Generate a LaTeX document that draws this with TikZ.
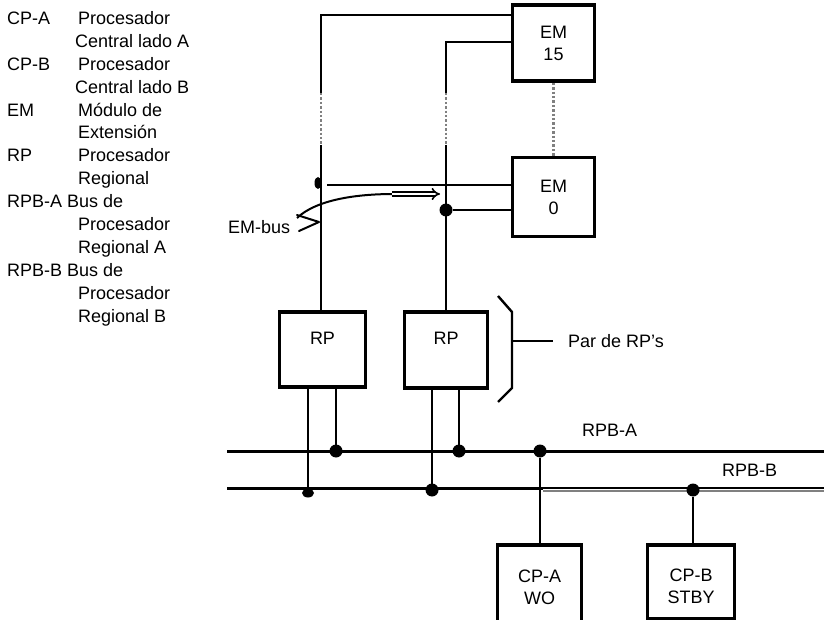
\documentclass[tikz,border=0pt]{standalone}
\usepackage{fontspec}
\setmainfont{Liberation Sans}
\usetikzlibrary{arrows.meta,shapes.geometric}
\begin{document}
\begin{tikzpicture}[x=1pt,y=-1pt,
  txt/.style={font=\fontsize{18}{22}\selectfont, inner sep=0pt},
  lg/.style={txt, anchor=base west},
  ln/.style={line width=2.4pt},
  bus/.style={line width=3pt},
  dotl/.style={line width=2.4pt, dotted, gray},
  box/.style={draw, line width=3.6pt, fill=white, inner sep=0pt, align=center, font=\fontsize{18}{22}\selectfont},
  dotn/.style={circle, fill, inner sep=0pt, minimum size=13pt}
]
\clip (0,0) rectangle (824,620);
\fill[white] (0,0) rectangle (824,620);

% legend
\node[lg] (l0a) at (7,24.5) {CP-A};
\node[lg] (l0b) at (78,24.5) {Procesador};
\node[lg] (l1)  at (75,47.4) {Central lado A};
\node[lg] (l2a) at (7,70.3) {CP-B};
\node[lg] (l2b) at (78,70.3) {Procesador};
\node[lg] (l3)  at (75,93.2) {Central lado B};
\node[lg] (l4a) at (7,116.1) {EM};
\node[lg] (l4b) at (78,116.1) {Módulo de};
\node[lg] (l5)  at (78,139) {Extensión};
\node[lg] (l6a) at (7,161.9) {RP};
\node[lg] (l6b) at (78,161.9) {Procesador};
\node[lg] (l7)  at (78,184.8) {Regional};
\node[lg] (l8)  at (7,207.7) {RPB-A Bus de};
\node[lg] (l9)  at (78,230.6) {Procesador};
\node[lg] (l10) at (78,253.5) {Regional A};
\node[lg] (l11) at (7,276.4) {RPB-B Bus de};
\node[lg] (l12) at (78,299.3) {Procesador};
\node[lg] (l13) at (78,322.2) {Regional B};

% boxes
\node[box, minimum width=82pt, minimum height=76pt] (em15) at (553.5,43) {EM\\15};
\node[box, minimum width=82pt, minimum height=79pt] (em0) at (553.5,197) {EM\\0};
\node[box, minimum width=86pt, minimum height=75pt] (rp1) at (322.5,349.5) {};
\node[box, minimum width=83pt, minimum height=76pt] (rp2) at (446,350) {};
\node[txt] (rp1t) at (322.5,338) {RP};
\node[txt] (rp2t) at (446,338) {RP};
\node[box, minimum width=84pt, minimum height=85pt] (cpa) at (539.5,587.5) {CP-A\\WO};
\node[box, minimum width=87pt, minimum height=74pt] (cpb) at (691,582) {};
\node[txt, align=center] (cpbt) at (691,586.5) {CP-B\\STBY};

% upper connectors
\coordinate (a1) at (321,15);
\coordinate (a2) at (321,93);
\coordinate (a3) at (321,145);
\draw[ln] (em15.west |- a1) -- (a1) -- (a2);
\draw[dotl] (a2) -- (a3);
\draw[ln] (a3) -- (a3 |- rp1.north);
\coordinate (b1) at (446,42);
\coordinate (b2) at (446,93);
\coordinate (b3) at (446,145);
\draw[ln] (em15.west |- b1) -- (b1) -- (b2);
\draw[dotl] (b2) -- (b3);
\draw[ln] (b3) -- (b3 |- rp2.north);
\draw[dotl] (em15.south) -- (em0.north);
\coordinate (c1) at (327,185);
\draw[ln] (c1) -- (c1 -| em0.west);
\node[ellipse, fill, inner sep=0pt, minimum width=7pt, minimum height=12pt] (blob1) at (318,183) {};
\node[dotn] (d1) at (446,210) {};
\draw[ln] (d1) -- (d1 -| em0.west);

% EM-bus
\node[txt, anchor=west] (emb) at (228,227) {EM-bus};
\draw[line width=2pt] (297,218) .. controls (316,200) and (355,194) .. (394,194);
\draw[line width=2pt, line join=round, line cap=round] (297,215) -- (319,222) -- (299,231);
\draw[line width=1.6pt, double, double distance=2.4pt, -{Implies}] (392,194) -- (440,194);

% RP pair bracket
\draw[ln] (498,296) -- (512,312) -- (512,388) -- (498,402);
\coordinate (br) at (512,341);
\node[txt, anchor=west] (par) at (568,341) {Par de RP’s};
\draw[ln, shorten >=15pt] (br) -- (par.west);

% buses
\coordinate (ra0) at (227,451);
\coordinate (ra1) at (824,451);
\coordinate (rb0) at (227,488);
\coordinate (rb1) at (543,488);
\coordinate (rb2) at (824,488);
\coordinate (rb3) at (543,491);
\coordinate (rb4) at (824,491);
\draw[bus] (ra0) -- (ra1);
\draw[bus] (rb0) -- (rb1);
\draw[line width=1.6pt] (rb1) -- (rb2);
\draw[line width=1.2pt, gray] (rb3) -- (rb4);
\node[txt, anchor=west] (rpba) at (582,430) {RPB-A};
\node[txt, anchor=west] (rpbb) at (722,470) {RPB-B};

% RP legs
\coordinate (k1) at (308,488);
\coordinate (k2) at (336,451);
\coordinate (k3) at (432,488);
\coordinate (k4) at (459,451);
\draw[ln] (k1 |- rp1.south) -- (k1);
\draw[ln] (k2 |- rp1.south) -- (k2);
\draw[ln] (k3 |- rp2.south) -- (k3);
\draw[ln] (k4 |- rp2.south) -- (k4);
\node[ellipse, fill, inner sep=0pt, minimum width=12pt, minimum height=9pt] (dB1) at (308,493) {};
\node[dotn] (dA1) at (336,451) {};
\node[dotn] (dA2) at (459,451) {};
\node[dotn] (dB2) at (432,490) {};
\node[dotn] (dA3) at (540,451) {};
\node[dotn] (dB3) at (693,490) {};
\draw[ln] (dA3) -- (dA3 |- cpa.north);
\draw[ln] (dB3) -- (dB3 |- cpb.north);
\end{tikzpicture}
\end{document}
